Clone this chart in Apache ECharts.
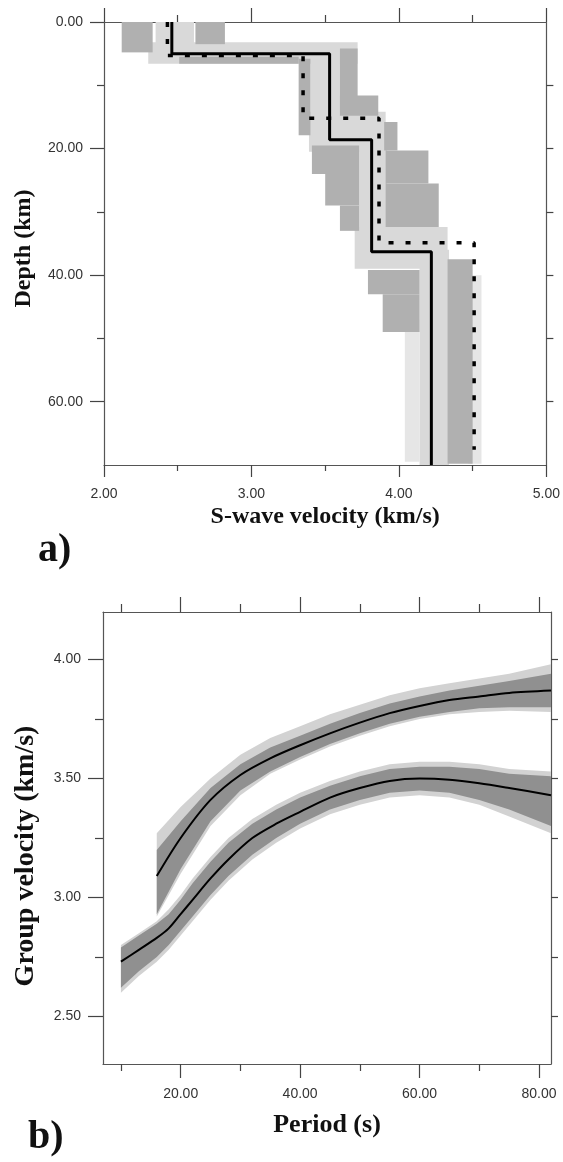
<!DOCTYPE html>
<html>
<head>
<meta charset="utf-8">
<script src="https://cdn.jsdelivr.net/npm/echarts@6/dist/echarts.min.js"></script>
<style>
  html, body { margin: 0; padding: 0; background: #fff; }
  #chart { width: 563px; height: 1162px; }
</style>
</head>
<body>
<div id="chart"></div>
<script>
// ---- panel a) S-wave velocity vs depth ----
// [velocity km/s, depth km]
const solidProfile = [[2.46, 0], [2.46, 5.0], [3.53, 5.0], [3.53, 18.6], [3.815, 18.6], [3.815, 36.3], [4.22, 36.3], [4.22, 70]];
const dashedProfile = [[2.43, 0], [2.43, 5.3], [3.35, 5.3], [3.35, 15.2], [3.865, 15.2], [3.865, 34.9], [4.51, 34.9], [4.51, 67.6]];
// model ensemble, [vMin, vMax, depthTop, depthBottom]
const lightBlocks = [
  [2.35, 2.61, 0, 4.6], [2.30, 3.72, 3.2, 6.6], [3.40, 3.60, 4.5, 18],
  [3.39, 3.91, 14.2, 20.5], [3.73, 3.92, 18, 37], [3.70, 4.33, 32.4, 39],
  [4.14, 4.34, 36, 70]
];
const sparseBlocks = [[4.04, 4.14, 47, 69.5], [4.47, 4.56, 40, 69.8]];
const darkBlocks = [
  [2.12, 2.33, 0, 4.8], [2.62, 2.82, 0, 3.5], [2.51, 3.32, 5.5, 6.6],
  [3.32, 3.40, 5.8, 17.9], [3.60, 3.72, 4.2, 14.2], [3.60, 3.86, 11.6, 14.8],
  [3.90, 3.99, 15.8, 20.3], [3.41, 3.73, 19.5, 24], [3.50, 3.73, 24, 29],
  [3.60, 3.73, 29, 33], [3.91, 4.20, 20.3, 25.5], [3.91, 4.27, 25.5, 32.4],
  [3.79, 4.14, 39.2, 43], [3.89, 4.14, 43, 49], [4.33, 4.50, 37.5, 69.8]
];
const velTicks = [2, 3, 4, 5];
const velMinor = [2.5, 3.5, 4.5];
const depthTicks = [0, 20, 40, 60];
const depthMinor = [10, 30, 50];
const depthRight = [10, 20, 30, 40, 50, 60];

// ---- panel b) group velocity dispersion ----
const upperPeriod = [16, 20, 25, 30, 35, 40, 45, 50, 55, 60, 65, 70, 75, 82];
const upperVel = [3.09, 3.25, 3.41, 3.515, 3.585, 3.64, 3.69, 3.735, 3.775, 3.805, 3.83, 3.845, 3.86, 3.87];
const upperLo = [2.93, 3.12, 3.32, 3.45, 3.53, 3.59, 3.645, 3.69, 3.73, 3.76, 3.78, 3.795, 3.80, 3.80];
const upperHi = [3.20, 3.32, 3.46, 3.56, 3.63, 3.68, 3.73, 3.775, 3.815, 3.845, 3.87, 3.89, 3.91, 3.94];
const upperLightLo = [2.92, 3.10, 3.30, 3.43, 3.52, 3.58, 3.635, 3.68, 3.72, 3.75, 3.77, 3.78, 3.785, 3.78];
const upperLightHi = [3.27, 3.38, 3.50, 3.60, 3.67, 3.72, 3.77, 3.81, 3.85, 3.88, 3.90, 3.92, 3.94, 3.98];

const lowerPeriod = [10, 13, 16, 18, 20, 22, 25, 28, 32, 36, 40, 45, 50, 55, 60, 65, 70, 75, 82];
const lowerVel = [2.73, 2.78, 2.83, 2.87, 2.93, 2.99, 3.08, 3.16, 3.25, 3.31, 3.36, 3.42, 3.46, 3.49, 3.50, 3.495, 3.48, 3.46, 3.43];
const lowerLo = [2.62, 2.69, 2.75, 2.80, 2.86, 2.92, 3.01, 3.09, 3.18, 3.25, 3.31, 3.37, 3.41, 3.44, 3.45, 3.44, 3.41, 3.37, 3.30];
const lowerHi = [2.79, 2.84, 2.89, 2.93, 2.99, 3.06, 3.15, 3.23, 3.31, 3.37, 3.42, 3.47, 3.51, 3.54, 3.55, 3.55, 3.54, 3.52, 3.51];
const lowerLightLo = [2.60, 2.67, 2.73, 2.78, 2.84, 2.90, 2.99, 3.07, 3.16, 3.23, 3.29, 3.35, 3.39, 3.42, 3.43, 3.42, 3.39, 3.34, 3.27];
const lowerLightHi = [2.80, 2.85, 2.90, 2.95, 3.01, 3.08, 3.17, 3.25, 3.33, 3.39, 3.44, 3.49, 3.53, 3.56, 3.57, 3.57, 3.56, 3.54, 3.53];
const periodTicks = [20, 40, 60, 80];
const periodMinor = [10, 30, 50, 70];
const groupTicks = [2.5, 3.0, 3.5, 4.0];
const groupMinor = [2.75, 3.25, 3.75];
const groupRight = [2.5, 2.75, 3.0, 3.25, 3.5, 3.75, 4.0];

const labelFont = { fontFamily: 'Liberation Sans', fontSize: 14, color: '#333' };
const titleFont = { fontFamily: 'Liberation Serif', fontWeight: 'bold', color: '#111' };

function axis(o) {
  const a = {
    gridIndex: o.grid,
    type: 'value',
    position: o.pos,
    min: o.min,
    max: o.max,
    inverse: !!o.inverse,
    axisLine: { show: !!o.line, onZero: false, lineStyle: { color: '#555', width: 1.2 } },
    axisTick: { show: true, inside: false, length: o.len, customValues: o.ticks, lineStyle: { color: '#444', width: 1.2 } },
    axisLabel: o.labels
      ? Object.assign({ show: true, customValues: o.ticks, margin: o.margin, formatter: v => v.toFixed(2) }, labelFont)
      : { show: false },
    splitLine: { show: false }
  };
  if (o.name) {
    a.name = o.name;
    a.nameLocation = 'middle';
    a.nameGap = o.nameGap;
    a.nameTextStyle = Object.assign({ fontSize: o.nameSize, padding: o.namePad || 0 }, titleFont);
  }
  return a;
}

function blockSeries(blocks, color) {
  return {
    type: 'custom',
    xAxisIndex: 0,
    yAxisIndex: 0,
    clip: true,
    encode: { x: [0, 1], y: [2, 3] },
    data: blocks,
    renderItem: function (params, api) {
      const a = api.coord([api.value(0), api.value(2)]);
      const b = api.coord([api.value(1), api.value(3)]);
      return {
        type: 'rect',
        shape: { x: Math.min(a[0], b[0]), y: Math.min(a[1], b[1]), width: Math.abs(b[0] - a[0]), height: Math.abs(b[1] - a[1]) },
        style: { fill: color }
      };
    }
  };
}

function bandSeries(periods, lo, hi, color) {
  return {
    type: 'custom',
    xAxisIndex: 4,
    yAxisIndex: 3,
    clip: true,
    data: [[periods[0], lo[0]]],
    renderItem: function (params, api) {
      const pts = [];
      periods.forEach((p, i) => pts.push(api.coord([p, hi[i]])));
      for (let i = periods.length - 1; i >= 0; i--) pts.push(api.coord([periods[i], lo[i]]));
      return { type: 'polygon', shape: { points: pts }, style: { fill: color } };
    }
  };
}

const chart = echarts.init(document.getElementById('chart'));
chart.setOption({
  animation: false,
  backgroundColor: '#fff',
  grid: [
    { left: 104, right: 15, top: 22, height: 443 },
    { left: 103, right: 12, top: 612, height: 452 }
  ],
  xAxis: [
    axis({ grid: 0, pos: 'bottom', min: 2, max: 5, line: true, ticks: velTicks, len: 12, labels: true, margin: 22,
           name: 'S-wave velocity (km/s)', nameGap: 40, nameSize: 24 }),
    axis({ grid: 0, pos: 'bottom', min: 2, max: 5, ticks: velMinor, len: 6 }),
    axis({ grid: 0, pos: 'top', min: 2, max: 5, line: true, ticks: velTicks, len: 14 }),
    axis({ grid: 0, pos: 'top', min: 2, max: 5, ticks: velMinor, len: 7 }),
    axis({ grid: 1, pos: 'bottom', min: 7, max: 82, line: true, ticks: periodTicks, len: 14, labels: true, margin: 23,
           name: 'Period (s)', nameGap: 48, nameSize: 26 }),
    axis({ grid: 1, pos: 'bottom', min: 7, max: 82, ticks: periodMinor, len: 7 }),
    axis({ grid: 1, pos: 'top', min: 7, max: 82, line: true, ticks: periodTicks, len: 15 }),
    axis({ grid: 1, pos: 'top', min: 7, max: 82, ticks: periodMinor, len: 8 })
  ],
  yAxis: [
    axis({ grid: 0, pos: 'left', min: 0, max: 70, inverse: true, line: true, ticks: depthTicks, len: 14, labels: true, margin: 21,
           name: 'Depth (km)', nameGap: 68, nameSize: 24, namePad: [0, 10, 0, 0] }),
    axis({ grid: 0, pos: 'left', min: 0, max: 70, inverse: true, ticks: depthMinor, len: 7 }),
    axis({ grid: 0, pos: 'right', min: 0, max: 70, inverse: true, line: true, ticks: depthRight, len: 7 }),
    axis({ grid: 1, pos: 'left', min: 2.3, max: 4.2, line: true, ticks: groupTicks, len: 15, labels: true, margin: 22,
           name: 'Group velocity (km/s)', nameGap: 63, nameSize: 28, namePad: [0, 36, 0, 0] }),
    axis({ grid: 1, pos: 'left', min: 2.3, max: 4.2, ticks: groupMinor, len: 8 }),
    axis({ grid: 1, pos: 'right', min: 2.3, max: 4.2, line: true, ticks: groupRight, len: 7 })
  ],
  series: [
    blockSeries(lightBlocks, '#d9d9d9'),
    blockSeries(sparseBlocks, '#e6e6e6'),
    blockSeries(darkBlocks, '#b0b0b0'),
    {
      type: 'line', xAxisIndex: 0, yAxisIndex: 0, data: dashedProfile, showSymbol: false,
      lineStyle: { color: '#000', width: 3.5, type: [5, 12], cap: 'butt' }
    },
    {
      type: 'line', xAxisIndex: 0, yAxisIndex: 0, data: solidProfile, showSymbol: false,
      lineStyle: { color: '#000', width: 3 }
    },
    bandSeries(upperPeriod, upperLightLo, upperLightHi, '#d2d2d2'),
    bandSeries(lowerPeriod, lowerLightLo, lowerLightHi, '#d2d2d2'),
    bandSeries(upperPeriod, upperLo, upperHi, '#909090'),
    bandSeries(lowerPeriod, lowerLo, lowerHi, '#909090'),
    {
      type: 'line', xAxisIndex: 4, yAxisIndex: 3, smooth: 0.3, showSymbol: false,
      data: upperPeriod.map((p, i) => [p, upperVel[i]]),
      lineStyle: { color: '#000', width: 2 }
    },
    {
      type: 'line', xAxisIndex: 4, yAxisIndex: 3, smooth: 0.3, showSymbol: false,
      data: lowerPeriod.map((p, i) => [p, lowerVel[i]]),
      lineStyle: { color: '#000', width: 2 }
    }
  ],
  graphic: [
    { type: 'text', left: 38, top: 531, style: { text: 'a)', font: 'bold 40px "Liberation Serif"', fill: '#111' } },
    { type: 'text', left: 28, top: 1118, style: { text: 'b)', font: 'bold 40px "Liberation Serif"', fill: '#111' } }
  ]
});
</script>
</body>
</html>
